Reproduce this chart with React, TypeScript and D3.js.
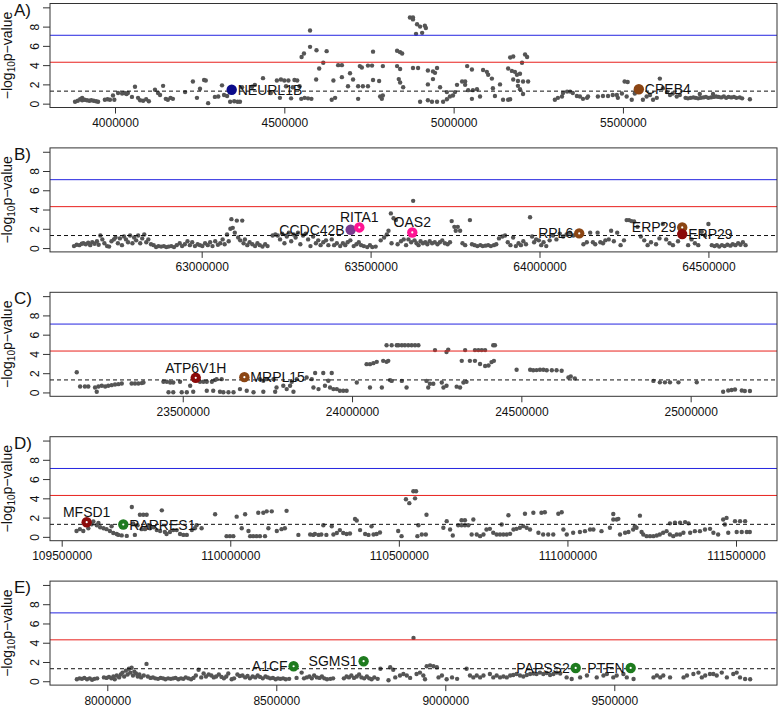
import React, { useEffect, useRef } from "react";
import * as d3 from "d3";

/* Regional association plots, five loci (A-E) */

// genomic window shown in each panel (bp) and its tick positions
const panelLetters = ["A)", "B)", "C)", "D)", "E)"];
const xDomains: [number, number][] = [
  [3808000, 5955000],
  [62551000, 64703000],
  [23108000, 25255000],
  [109465300, 111621600],
  [7830500, 9981400],
];
const xTickValues: number[][] = [
  [4000000, 4500000, 5000000, 5500000],
  [63000000, 63500000, 64000000, 64500000],
  [23500000, 24000000, 24500000, 25000000],
  [109500000, 110000000, 110500000, 111000000, 111500000],
  [8000000, 8500000, 9000000, 9500000],
];
const yTickValues = [0, 2, 4, 6, 8, 10];

// significance thresholds (-log10 p)
const blueLine = 7.1;
const redLine = 4.3;
const dashedLine = 1.3;

// SNPs: [position in kb, -log10 p]
const snpsA: [number, number][] = [
  [3882,0.2],[3890,0.3],[3897,0.45],[3903,0.6],[3903,0.35],[3910,0.4],[3917,0.35],[3924,0.3],[3930,0.35],[3937,0.3],[3944,0.25],[3950,0.2],
  [3970,0.4],[3978,0.45],[3985,0.4],[3994,0.85],[3998,0.4],[4009,1.1],[4021,1.05],[4028,1.1],[4034,1.0],[4038,1.1],[4050,0.7],[4059,1.75],
  [4068,0.6],[4074,0.35],[4083,0.3],[4092,0.45],[4100,0.25],[4118,1.45],[4127,1.1],[4133,0.9],[4142,1.85],[4150,0.5],[4156,0.4],[4164,0.6],
  [4171,0.5],[4207,1.2],[4230,2.3],[4242,0.6],[4251,1.55],[4263,2.45],[4268,2.4],[4275,0.05],[4295,0.7],[4305,0.75],[4316,1.9],[4322,0.9],
  [4331,0.8],[4340,0.2],[4352,0.25],[4362,0.2],[4369,0.2],[4375,1.7],[4405,1.75],[4413,1.95],[4437,2.65],[4460,1.1],[4478,2.4],[4487,0.6],
  [4490,2.5],[4500,2.4],[4505,1.8],[4512,2.4],[4520,0.55],[4525,1.7],[4530,2.45],[4538,2.4],[4545,1.8],[4550,0.5],[4560,0.6],[4570,0.55],
  [4580,0.5],[4551,4.85],[4558,5.2],[4576,7.6],[4576,5.9],[4595,5.55],[4625,5.45],[4615,4.25],[4603,3.65],[4594,2.5],[4645,2.4],[4650,0.6],
  [4640,0.4],[4659,4.0],[4670,4.0],[4670,2.75],[4694,3.15],[4703,2.5],[4688,1.8],[4718,1.8],[4732,1.8],[4747,1.8],[4718,0.5],[4723,3.9],
  [4729,3.75],[4747,3.95],[4759,3.95],[4762,5.4],[4762,2.45],[4783,0.75],[4791,0.85],[4788,0.5],[4780,2.35],[4791,3.9],[4833,5.5],[4842,5.35],
  [4848,5.2],[4833,3.9],[4842,3.6],[4838,2.55],[4842,2.2],[4851,1.7],[4871,8.95],[4880,8.95],[4880,8.75],[4892,8.25],[4901,8.0],[4915,8.1],
  [4918,7.85],[4889,7.25],[4907,7.35],[4880,3.7],[4895,3.7],[4901,0.2],[4924,0.35],[4936,0.2],[4951,0.2],[4969,0.2],[4980,0.45],[4989,0.75],
  [4924,3.45],[4939,3.35],[4951,3.7],[4945,3.2],[4939,2.55],[4924,2.0],[4960,1.7],[4980,1.2],[4998,0.85],[5004,1.2],[5010,1.95],[5025,2.3],
  [5034,2.3],[5034,1.95],[5040,3.9],[5054,3.55],[5043,1.4],[5057,1.4],[5069,1.5],[5054,0.5],[5078,0.75],[5087,3.5],[5098,3.3],[5102,3.0],
  [5113,2.6],[5116,1.6],[5122,0.8],[5137,2.0],[5146,0.4],[5161,0.4],[5167,0.45],[5167,4.8],[5176,4.9],[5161,3.65],[5172,3.4],[5181,3.3],
  [5187,3.0],[5196,3.1],[5176,2.5],[5190,2.35],[5205,2.3],[5220,2.3],[5190,1.85],[5196,1.5],[5202,4.25],[5211,5.1],[5217,4.85],[5205,1.0],
  [5299,0.4],[5308,0.6],[5320,0.75],[5323,1.1],[5335,1.25],[5344,1.25],[5352,1.1],[5364,0.8],[5373,0.75],[5382,0.5],[5394,0.6],[5397,0.75],
  [5426,0.75],[5441,0.8],[5456,0.8],[5470,0.9],[5482,0.9],[5485,0.6],[5497,1.05],[5505,2.3],[5514,2.25],[5511,0.75],[5526,0.4],[5535,1.05],
  [5559,0.4],[5570,0.75],[5580,0.9],[5589,0.4],[5600,0.6],[5609,2.6],[5618,1.6],[5630,1.2],[5639,0.9],[5647,1.05],[5659,0.75],[5668,0.9],
  [5685,0.6],[5692,0.55],[5700,0.6],[5708,0.65],[5715,0.6],[5722,0.55],[5727,1.0],[5730,0.6],[5738,0.65],[5745,0.7],[5752,0.6],[5760,0.65],
  [5766,1.0],[5768,0.7],[5775,0.75],[5782,0.7],[5790,0.65],[5798,0.75],[5805,0.6],[5812,0.7],[5820,0.65],[5828,0.7],[5835,0.6],[5845,0.65],
  [5852,0.55],[5875,0.45],
];

const snpsB: [number, number][] = [
  [62622,0.2],[62630,0.35],[62638,0.3],[62645,0.45],[62650,0.5],[62657,0.4],[62664,0.55],[62670,0.3],[62676,0.6],[62683,0.45],[62690,0.7],
  [62695,0.35],[62700,1.3],[62706,0.9],[62712,0.5],[62720,0.2],[62726,0.15],[62733,0.7],[62740,0.9],[62745,1.1],[62752,0.5],[62758,1.0],
  [62764,0.3],[62770,1.2],[62776,0.9],[62782,0.6],[62788,1.3],[62795,0.5],[62800,1.1],[62806,0.8],[62812,1.3],[62818,0.5],[62824,1.0],
  [62830,1.4],[62836,0.6],[62842,0.9],[62850,0.4],[62858,0.3],[62865,0.1],[62872,0.2],[62880,0.15],[62888,0.2],[62895,0.1],[62902,0.15],
  [62910,0.2],[62918,0.1],[62926,0.3],[62935,0.5],[62942,0.2],[62950,0.4],[62958,0.7],[62965,0.3],[62972,0.6],[62980,0.2],[62988,0.4],
  [62995,0.3],[63002,0.2],[63010,0.5],[63018,0.3],[63025,0.6],[63032,0.2],[63040,0.7],[63048,0.35],[63055,0.5],[63062,0.9],[63068,0.4],
  [63075,1.4],[63080,0.7],[63085,2.0],[63088,3.0],[63092,2.1],[63098,1.6],[63104,2.85],[63108,1.1],[63120,2.85],[63114,0.8],[63124,0.5],
  [63128,0.9],[63135,0.3],[63142,0.6],[63150,0.4],[63158,0.2],[63165,0.5],[63172,0.3],[63180,0.15],[63188,0.4],[63195,0.2],[63210,1.3],
  [63218,1.4],[63225,1.3],[63232,0.9],[63238,1.5],[63245,0.5],[63252,1.2],[63258,1.6],[63265,0.7],[63272,1.4],[63278,1.1],[63285,1.6],
  [63292,0.4],[63300,1.3],[63308,1.5],[63315,0.9],[63322,0.2],[63330,1.2],[63338,0.5],[63345,0.8],[63352,0.3],[63360,0.6],[63368,0.8],
  [63375,0.3],[63385,0.9],[63392,0.3],[63400,0.5],[63410,0.2],[63418,0.5],[63425,0.3],[63432,0.6],[63440,0.8],[63450,0.2],[63458,0.4],
  [63465,0.6],[63472,0.3],[63480,0.2],[63490,0.1],[63498,0.3],[63505,0.1],[63515,0.15],[63530,0.8],[63540,1.1],[63548,1.4],[63553,1.8],
  [63560,3.6],[63568,3.1],[63575,2.9],[63562,0.5],[63580,0.4],[63590,0.7],[63598,0.9],[63605,0.3],[63612,0.9],[63620,0.6],[63626,4.9],
  [63630,0.8],[63636,0.5],[63642,0.3],[63648,0.7],[63655,0.5],[63662,0.6],[63668,0.4],[63675,0.7],[63682,0.5],[63690,0.6],[63698,0.4],
  [63705,0.6],[63712,0.8],[63720,0.5],[63728,0.4],[63735,0.6],[63740,2.8],[63748,2.2],[63752,1.8],[63758,2.2],[63765,1.8],[63772,0.5],
  [63780,0.3],[63794,2.9],[63800,0.4],[63808,0.3],[63816,0.2],[63825,0.3],[63832,0.2],[63840,0.25],[63848,0.3],[63856,0.2],[63865,0.3],
  [63872,0.4],[63880,1.0],[63890,1.2],[63898,1.3],[63906,0.6],[63914,0.3],[63922,1.1],[63930,0.2],[63938,0.5],[63945,0.3],[63952,0.7],
  [63960,0.4],[63972,3.2],[63978,1.2],[63984,0.6],[63990,0.9],[63998,0.8],[64005,0.3],[64012,0.6],[64020,0.2],[64030,0.8],[64040,1.3],
  [64050,0.9],[64060,1.5],[64070,1.2],[64080,1.4],[64090,1.6],[64100,1.3],[64130,0.4],[64140,0.6],[64150,1.6],[64158,0.6],[64165,0.4],
  [64172,1.6],[64180,0.6],[64188,0.5],[64195,0.8],[64205,0.9],[64212,1.8],[64220,0.7],[64230,1.6],[64240,0.3],[64250,0.8],[64258,2.9],
  [64265,2.9],[64272,2.8],[64280,2.75],[64290,2.2],[64300,1.2],[64310,0.8],[64320,0.3],[64330,0.6],[64345,0.4],[64355,1.0],[64365,2.5],
  [64375,0.9],[64385,0.5],[64395,0.3],[64410,0.7],[64440,0.3],[64450,0.9],[64460,0.5],[64470,0.3],[64480,1.7],[64490,1.3],[64500,2.5],
  [64510,0.3],[64518,0.2],[64525,0.3],[64532,0.15],[64540,0.3],[64548,0.2],[64556,0.35],[64565,0.25],[64572,0.4],[64580,0.3],[64588,0.5],
  [64595,0.35],[64602,0.6],[64610,0.3],
];

const snpsC: [number, number][] = [
  [23187,2.09],[23197,0.62],[23211,0.62],[23221,0.62],[23241,0.52],[23246,0.07],[23251,0.62],[23261,0.69],[23271,0.62],[23280,0.69],
  [23290,0.76],[23300,0.83],[23310,0.86],[23320,0.93],[23349,0.93],[23359,0.93],[23369,0.93],[23379,0.97],[23384,1.04],[23443,1.11],
  [23453,1.11],[23463,1.04],[23472,1.04],[23492,1.11],[23458,0.02],[23472,0.02],[23497,0.02],[23512,0.02],[23531,0.07],[23522,0.69],
  [23551,1.11],[23561,1.11],[23571,1.11],[23586,1.11],[23595,1.28],[23571,0.17],[23590,0.17],[23610,0.07],[23620,0.02],[23635,0.02],
  [23600,1.38],[23615,1.38],[23650,0.02],[23669,0.35],[23689,0.17],[23709,0.02],[23728,1.38],[23738,1.21],[23748,1.38],[23768,1.38],
  [23773,0.07],[23738,0.07],[23777,0.52],[23797,0.69],[23807,0.35],[23817,0.69],[23822,1.11],[23827,0.07],[23837,1.38],[23866,1.55],
  [23881,1.38],[23891,2.02],[23915,2.02],[23940,2.02],[23886,0.52],[23901,0.35],[23920,0.69],[23930,1.21],[23935,0.52],[23945,0.35],
  [23955,0.35],[23964,0.17],[23974,0.17],[23984,0.17],[24014,1.04],[24043,2.94],[24053,2.94],[24063,3.04],[24073,3.18],[24102,3.18],
  [24053,0.52],[24088,0.52],[24112,1.28],[24102,4.9],[24132,4.9],[24117,4.9],[24137,4.9],[24147,4.9],[24156,4.9],[24166,4.9],[24176,4.9],
  [24186,4.9],[24196,4.9],[24107,3.28],[24092,3.28],[24117,1.2],[24147,1.2],[24161,0.52],[24220,1.2],[24225,0.52],[24230,0.9],[24240,0.9],
  [24245,4.4],[24265,1.04],[24270,0.52],[24279,0.69],[24279,4.2],[24284,4.45],[24309,0.6],[24319,0.52],[24329,1.04],[24338,1.1],
  [24324,3.28],[24334,4.4],[24348,3.28],[24363,3.28],[24378,2.95],[24393,2.75],[24403,2.8],[24412,3.15],[24419,3.28],[24363,4.4],
  [24373,4.4],[24383,4.4],[24393,4.4],[24417,4.9],[24422,4.9],[24486,2.35],[24526,2.35],[24535,2.3],[24545,2.32],[24555,2.35],
  [24565,2.35],[24575,2.3],[24590,2.3],[24604,2.3],[24619,2.25],[24639,1.55],[24646,1.65],[24658,1.45],[24890,1.2],[24909,1.05],
  [24924,1.05],[24939,1.05],[24964,1.05],[25018,1.05],[25096,0.07],[25111,0.2],[25121,0.25],[25131,0.3],[25151,0.2],[25160,0.15],
  [25175,0.15],
];

const snpsD: [number, number][] = [
  [109544,0.6],[109554,0.8],[109564,0.6],[109579,0.9],[109589,1.3],[109594,1.6],[109604,1.2],[109609,1.45],[109614,1.0],[109624,0.9],
  [109633,0.8],[109643,0.6],[109648,1.1],[109653,0.4],[109663,0.3],[109668,0.2],[109678,0.15],[109693,0.1],[109708,3.1],[109712,1.4],
  [109717,0.2],[109725,1.2],[109732,2.3],[109737,0.8],[109742,2.3],[109747,0.8],[109752,2.3],[109757,1.2],[109762,0.9],[109772,1.0],
  [109782,0.7],[109792,0.6],[109797,2.75],[109806,0.5],[109811,0.3],[109821,0.5],[109831,0.7],[109841,0.7],[109851,0.3],[109861,0.2],
  [109871,0.2],[109886,0.7],[109895,0.9],[109900,1.2],[109915,0.9],[109955,2.35],[109989,0.07],[109999,0.07],[110009,0.07],[110019,2.1],
  [110034,0.9],[110044,2.35],[110054,0.6],[110059,0.07],[110068,0.07],[110078,0.07],[110083,2.5],[110088,0.07],[110098,2.5],[110103,0.07],
  [110108,2.65],[110113,0.9],[110123,2.65],[110138,0.6],[110152,0.8],[110162,0.9],[110167,2.7],[110202,0.2],[110237,0.25],[110246,0.2],
  [110251,0.3],[110262,0.2],[110270,0.25],[110276,1.2],[110285,0.2],[110301,1.1],[110306,0.25],[110316,0.4],[110325,0.7],[110335,0.4],
  [110345,0.3],[110355,0.35],[110370,1.85],[110375,1.7],[110385,0.7],[110400,0.3],[110410,0.2],[110419,1.1],[110425,0.25],[110434,0.3],
  [110444,0.45],[110498,0.6],[110508,0.07],[110521,3.9],[110531,3.5],[110543,4.74],[110551,4.74],[110548,4.0],[110558,1.2],[110555,0.07],
  [110568,0.24],[110582,2.3],[110580,0.24],[110632,0.94],[110642,1.63],[110652,0.76],[110660,0.14],[110676,1.21],[110686,1.21],
  [110696,1.21],[110706,1.21],[110686,1.73],[110696,1.73],[110721,1.8],[110716,0.24],[110731,0.24],[110741,0.07],[110751,0.24],
  [110760,0.76],[110770,0.83],[110780,0.42],[110790,0.24],[110800,0.24],[110805,1.28],[110810,0.24],[110820,0.24],[110825,2.25],
  [110830,0.31],[110840,0.76],[110849,0.83],[110859,0.94],[110869,1.11],[110874,2.4],[110879,0.94],[110889,0.76],[110899,2.5],
  [110914,0.42],[110923,2.5],[110928,0.24],[110933,2.56],[110943,0.24],[110958,0.24],[110973,2.4],[110983,2.56],[110988,0.76],
  [110998,0.24],[111017,0.42],[111037,0.5],[111052,0.59],[111067,0.76],[111077,0.76],[111101,0.59],[111126,0.94],[111136,1.8],
  [111136,2.37],[111146,1.8],[111151,1.87],[111156,0.24],[111171,0.42],[111181,0.5],[111195,0.76],[111200,1.1],[111205,0.94],
  [111215,2.2],[111220,0.5],[111225,0.24],[111235,0.07],[111245,0.07],[111255,0.07],[111265,0.14],[111274,0.24],[111284,0.42],
  [111294,0.59],[111304,0.24],[111314,0.07],[111324,0.24],[111334,0.24],[111344,0.42],[111304,1.4],[111319,1.46],[111334,1.46],
  [111349,1.53],[111359,1.4],[111364,0.42],[111378,0.59],[111393,0.59],[111408,0.76],[111423,0.83],[111433,0.42],[111447,0.24],
  [111462,1.8],[111467,1.28],[111472,1.97],[111477,0.42],[111497,1.63],[111512,1.63],[111527,1.63],[111502,0.5],[111517,0.5],
  [111532,0.5],[111541,0.5],
];

const snpsE: [number, number][] = [
  [7910,0.2],[7918,0.3],[7925,0.25],[7932,0.35],[7940,0.2],[7948,0.3],[7955,0.15],[7962,0.25],[7970,0.3],[7990,0.4],[7998,0.35],
  [8005,0.45],[8012,0.3],[8018,0.5],[8022,0.2],[8028,0.6],[8035,0.4],[8040,0.7],[8045,0.9],[8050,0.5],[8055,1.1],[8060,0.7],[8064,1.3],
  [8068,0.9],[8072,1.4],[8076,0.6],[8080,1.0],[8085,0.8],[8090,0.5],[8095,0.7],[8100,0.4],[8108,0.6],[8116,1.8],[8120,0.5],[8128,0.35],
  [8135,0.4],[8142,0.3],[8150,0.25],[8158,0.35],[8165,0.3],[8172,0.2],[8180,0.3],[8188,0.25],[8195,0.3],[8202,0.35],[8210,0.2],[8218,0.3],
  [8225,0.25],[8232,0.4],[8240,0.3],[8248,0.2],[8255,0.35],[8262,0.6],[8270,1.2],[8278,0.4],[8285,0.8],[8292,0.5],[8300,0.7],[8308,0.6],
  [8315,0.4],[8322,0.5],[8330,0.7],[8338,0.45],[8345,0.3],[8352,0.5],[8358,0.8],[8368,0.2],[8375,0.3],[8385,0.7],[8392,0.55],[8400,0.6],
  [8408,0.4],[8415,0.55],[8422,0.3],[8430,0.5],[8438,0.4],[8445,0.6],[8452,0.45],[8460,0.3],[8468,0.5],[8475,0.4],[8482,0.3],[8490,0.35],
  [8498,0.2],[8505,0.3],[8512,0.25],[8520,0.3],[8528,0.2],[8538,0.25],[8560,0.35],[8575,0.9],[8582,0.3],[8590,0.4],[8598,0.5],[8605,0.3],
  [8612,0.6],[8620,0.4],[8628,0.35],[8635,0.5],[8642,0.3],[8650,0.2],[8660,0.25],[8668,0.3],[8700,0.3],[8708,0.5],[8715,0.4],[8722,0.6],
  [8730,0.35],[8738,0.5],[8745,0.7],[8752,0.4],[8760,0.3],[8768,0.5],[8775,0.3],[8782,0.2],[8790,0.4],[8800,0.25],[8808,1.3],[8837,1.45],
  [8846,1.2],[8832,0.1],[8852,0.4],[8866,0.6],[8876,0.75],[8886,0.6],[8896,0.35],[8906,4.5],[8915,0.75],[8925,0.9],[8935,0.6],[8940,0.2],
  [8945,1.55],[8955,1.65],[8965,1.55],[8975,1.45],[8980,0.4],[8990,0.6],[9004,0.2],[9020,0.4],[9035,0.25],[9063,1.3],[9073,0.6],
  [9083,0.4],[9093,0.6],[9103,0.4],[9113,0.6],[9132,0.75],[9142,0.4],[9152,0.6],[9162,0.4],[9172,0.5],[9182,0.4],[9192,0.6],[9201,0.65],
  [9211,0.75],[9221,0.6],[9231,0.5],[9241,0.65],[9251,0.75],[9261,0.8],[9270,0.75],[9280,0.9],[9290,0.75],[9300,0.85],[9310,0.65],
  [9320,0.75],[9330,0.9],[9340,0.8],[9359,0.4],[9374,0.24],[9399,0.4],[9419,0.6],[9448,0.4],[9468,0.6],[9478,0.76],[9497,0.4],[9507,0.6],
  [9527,0.76],[9537,0.4],[9557,0.24],[9616,0.4],[9626,0.6],[9636,0.4],[9645,0.6],[9665,0.4],[9705,0.4],[9715,0.6],[9734,0.75],[9749,0.9],
  [9759,0.4],[9769,0.6],[9783,0.75],[9793,0.75],[9803,0.6],[9818,0.9],[9833,0.4],[9852,0.75],[9862,0.9],[9872,0.4],[9887,0.24],[9902,0.2],
];

// highlighted genes: name, position (kb), -log10 p, colour group, label side
type Gene = { name: string; kb: number; p: number; group: string; side: "right" | "left" | "top" };
const genesA: Gene[] = [
  { name: "NEURL1B", kb: 4344.6, p: 1.44, group: "navy", side: "right" },
  { name: "CPEB4", kb: 5547, p: 1.5, group: "brown", side: "right" },
];
const genesB: Gene[] = [
  { name: "CCDC42B", kb: 63441, p: 1.9, group: "purple", side: "left" },
  { name: "RITA1", kb: 63466.6, p: 2.14, group: "pink", side: "top" },
  { name: "OAS2", kb: 63623.4, p: 1.62, group: "pink", side: "top" },
  { name: "RPL6", kb: 64117.5, p: 1.52, group: "brown", side: "left" },
  { name: "ERP29", kb: 64422.4, p: 2.14, group: "brown", side: "left" },
  { name: "ERP29", kb: 64422.4, p: 1.45, group: "darkred", side: "right" },
];
const genesC: Gene[] = [
  { name: "ATP6V1H", kb: 23538.4, p: 1.52, group: "darkred", side: "top" },
  { name: "MRPL15", kb: 23682, p: 1.59, group: "brown", side: "right" },
];
const genesD: Gene[] = [
  { name: "MFSD1", kb: 109574.1, p: 1.52, group: "darkred", side: "top" },
  { name: "RARRES1", kb: 109682.7, p: 1.28, group: "green", side: "right" },
];
const genesE: Gene[] = [
  { name: "A1CF", kb: 8551.2, p: 1.56, group: "green", side: "left" },
  { name: "SGMS1", kb: 8758.3, p: 2.08, group: "green", side: "left" },
  { name: "PAPSS2", kb: 9385.8, p: 1.38, group: "green", side: "left" },
  { name: "PTEN", kb: 9548.5, p: 1.38, group: "green", side: "left" },
];

const groupColor: Record<string, string> = {
  navy: "#0b0b8a",
  brown: "#8b4513",
  purple: "#7a3b8f",
  pink: "#ff1493",
  darkred: "#8b0a0a",
  green: "#1e7b1e",
};
// genes drawn with a small white centre
const dottedGenes = ["RITA1", "OAS2", "RPL6", "ATP6V1H", "MRPL15", "MFSD1", "RARRES1", "A1CF", "SGMS1", "PAPSS2", "PTEN"];

const allSnps = [snpsA, snpsB, snpsC, snpsD, snpsE];
const allGenes = [genesA, genesB, genesC, genesD, genesE];

const App = () => {
  const ref = useRef<SVGSVGElement>(null);

  useEffect(() => {
    document.body.style.margin = "0";
    const W = 778;
    const H = 707;
    const left = 50;
    const right = 777;
    const firstTop = 3.5;
    const step = 144.4;
    const boxH = 104;
    const font = "'Liberation Sans', Arial, Helvetica, sans-serif";

    const svg = d3.select(ref.current).attr("width", W).attr("height", H);
    svg.selectAll("*").remove();

    allSnps.forEach((snps, i) => {
      const top = firstTop + i * step;
      const x = d3.scaleLinear().domain(xDomains[i]).range([left, right]);
      const y = d3.scaleLinear().domain([-0.4, 10.4]).range([top + boxH, top]);
      const g = svg.append("g");

      /* SNP points */
      g.append("g")
        .selectAll("circle")
        .data(snps)
        .join("circle")
        .attr("cx", (d) => x(d[0] * 1000))
        .attr("cy", (d) => y(d[1]))
        .attr("r", 2.2)
        .attr("fill", "#555");

      /* threshold lines, drawn over the points */
      const hline = (v: number, color: string, dash?: string) => {
        const l = g
          .append("line")
          .attr("x1", left)
          .attr("x2", right)
          .attr("y1", y(v))
          .attr("y2", y(v))
          .attr("stroke", color)
          .attr("stroke-width", 1);
        if (dash) l.attr("stroke-dasharray", dash);
      };
      hline(blueLine, "#2424e0");
      hline(redLine, "#e8201c");
      hline(dashedLine, "#111", "4,3");

      /* highlighted genes */
      const genes = allGenes[i];
      g.append("g")
        .selectAll("circle")
        .data(genes)
        .join("circle")
        .attr("cx", (d) => x(d.kb * 1000))
        .attr("cy", (d) => y(d.p))
        .attr("r", 5.2)
        .attr("fill", (d) => groupColor[d.group]);
      g.append("g")
        .selectAll("circle")
        .data(genes.filter((d) => dottedGenes.includes(d.name) || (d.name === "ERP29" && d.group === "brown")))
        .join("circle")
        .attr("cx", (d) => x(d.kb * 1000))
        .attr("cy", (d) => y(d.p))
        .attr("r", 1.1)
        .attr("fill", "#fff");
      g.append("g")
        .selectAll("text")
        .data(genes)
        .join("text")
        .attr("x", (d) => x(d.kb * 1000) + (d.side === "right" ? 6 : d.side === "left" ? -6 : 0))
        .attr("y", (d) => y(d.p) + (d.side === "top" ? -10 : 0))
        .attr("dy", "0.36em")
        .attr("text-anchor", (d) => (d.side === "right" ? "start" : d.side === "left" ? "end" : "middle"))
        .attr("font-family", font)
        .attr("font-size", 14)
        .attr("fill", "#111")
        .text((d) => d.name);

      /* box */
      g.append("rect")
        .attr("x", left)
        .attr("y", top)
        .attr("width", right - left)
        .attr("height", boxH)
        .attr("fill", "none")
        .attr("stroke", "#333")
        .attr("stroke-width", 1);

      /* x axis */
      const xa = g
        .append("g")
        .attr("transform", `translate(0,${top + boxH})`)
        .call(
          d3
            .axisBottom(x)
            .tickValues(xTickValues[i])
            .tickSize(6)
            .tickSizeOuter(0)
            .tickPadding(5)
            .tickFormat(d3.format("d"))
        );
      xa.select(".domain").remove();
      xa.selectAll("line").attr("stroke", "#333");
      xa.selectAll("text").attr("font-family", font).attr("font-size", 12).attr("fill", "#111");

      /* y axis with rotated labels */
      const ya = g
        .append("g")
        .attr("transform", `translate(${left},0)`)
        .call(
          d3
            .axisLeft(y)
            .tickValues(yTickValues)
            .tickSize(7)
            .tickSizeOuter(0)
            .tickFormat((d) => (+d === 10 ? "" : String(d)))
        );
      ya.select(".domain").remove();
      ya.selectAll("line").attr("stroke", "#333");
      ya.selectAll("text")
        .attr("x", null)
        .attr("dy", null)
        .attr("text-anchor", "middle")
        .attr("transform", "translate(-11,0) rotate(-90)")
        .attr("font-family", font)
        .attr("font-size", 12)
        .attr("fill", "#111");

      /* y title */
      const title = g
        .append("text")
        .attr("transform", `translate(12,${top + boxH / 2}) rotate(-90)`)
        .attr("text-anchor", "middle")
        .attr("font-family", font)
        .attr("font-size", 14)
        .attr("fill", "#111");
      title.append("tspan").text("\u2212log");
      title.append("tspan").attr("font-size", 10).attr("dy", 3).text("10");
      title.append("tspan").attr("dy", -3).text("p\u2212value");

      /* panel letter */
      g.append("text")
        .attr("x", 14)
        .attr("y", Math.max(top + 12, 12.7))
        .attr("font-family", font)
        .attr("font-size", 17)
        .attr("fill", "#111")
        .text(panelLetters[i]);
    });
  }, []);

  return (
    <div style={{ width: 778, height: 707, background: "#fff" }}>
      <svg ref={ref} style={{ display: "block" }} />
    </div>
  );
};

export default App;
